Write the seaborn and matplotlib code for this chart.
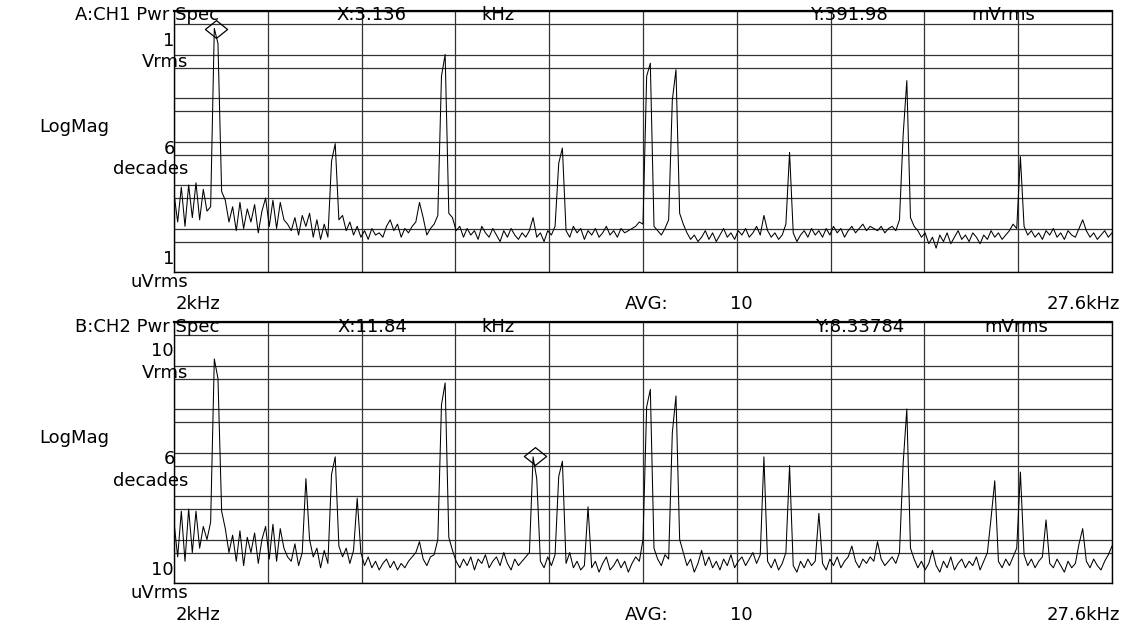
import numpy as np
import pandas as pd
import matplotlib
matplotlib.use("Agg")
import matplotlib.pyplot as plt
from matplotlib.path import Path
from matplotlib.ticker import NullLocator
import seaborn as sns

## DATA
# both traces: 2 kHz start, 25.6 kHz span, one point every 0.1 kHz
f_start = 2.0
f_stop = 27.6
n_points = 257

# CH1 power spectrum in dBV
ch1_dbv = [
    -84, -97, -81, -99, -80, -95, -79, -96, -82, -92, -90, -8, -15, -83, -87, -97,
    -90, -101, -88, -100, -91, -97, -89, -102, -92, -86, -99, -87, -100, -88, -96, -98,
    -101, -95, -103, -94, -99, -93, -104, -96, -105, -98, -104, -69, -61, -96, -94, -101,
    -97, -103, -99, -104, -101, -105, -100, -103, -102, -104, -99, -96, -101, -98, -104, -100,
    -102, -99, -97, -88, -95, -103, -100, -98, -94, -30, -20, -93, -95, -101, -99, -104,
    -100, -103, -101, -105, -99, -102, -104, -100, -103, -106, -101, -104, -100, -103, -105, -102,
    -104, -101, -95, -104, -102, -106, -101, -103, -99, -70, -63, -101, -104, -99, -102, -100,
    -105, -101, -103, -100, -104, -102, -99, -103, -101, -104, -100, -102, -101, -100, -99, -97,
    -98, -30, -24, -99, -101, -103, -100, -96, -41, -27, -93, -98, -102, -105, -103, -106,
    -104, -101, -105, -102, -106, -103, -100, -104, -102, -105, -101, -103, -100, -104, -102, -99,
    -103, -94, -101, -104, -102, -105, -103, -98, -65, -102, -106, -103, -101, -104, -100, -103,
    -101, -104, -100, -103, -99, -102, -100, -104, -101, -99, -102, -100, -98, -101, -99, -100,
    -101, -99, -102, -100, -99, -101, -96, -57, -32, -95, -99, -101, -104, -102, -107, -104,
    -109, -103, -106, -102, -107, -104, -101, -105, -103, -106, -102, -104, -107, -103, -105, -101,
    -104, -102, -105, -103, -101, -98, -100, -67, -99, -103, -101, -104, -102, -105, -101, -103,
    -100, -104, -102, -105, -101, -103, -104, -100, -96, -101, -104, -102, -105, -103, -101, -104,
    -102,
]

# CH2 power spectrum in dBV
ch2_dbv = [
    -72, -88, -67, -90, -66, -86, -67, -84, -74, -80, -72, 3, -6, -67, -75, -86,
    -78, -90, -76, -92, -79, -86, -77, -91, -80, -74, -89, -73, -90, -75, -84, -88,
    -90, -82, -92, -86, -52, -80, -88, -84, -93, -85, -91, -50, -42, -83, -88, -84,
    -91, -85, -61, -86, -92, -88, -93, -90, -94, -91, -89, -93, -90, -94, -91, -93,
    -90, -88, -86, -81, -89, -92, -88, -87, -80, -18, -8, -79, -85, -90, -93, -89,
    -92, -88, -94, -89, -91, -87, -93, -90, -88, -92, -86, -91, -94, -89, -92, -90,
    -88, -86, -42, -52, -90, -93, -88, -92, -87, -51, -44, -91, -86, -93, -90, -94,
    -92, -65, -93, -90, -95, -91, -88, -94, -92, -89, -93, -90, -95, -91, -88, -90,
    -80, -19, -11, -84, -89, -92, -87, -89, -31, -14, -80, -86, -92, -89, -95, -91,
    -85, -92, -88, -93, -90, -94, -89, -92, -87, -93, -90, -88, -92, -89, -86, -91,
    -87, -42, -90, -93, -89, -94, -91, -86, -46, -92, -95, -90, -93, -89, -92, -90,
    -68, -91, -94, -89, -92, -88, -93, -90, -88, -83, -90, -93, -89, -91, -88, -90,
    -81, -89, -92, -90, -88, -91, -86, -45, -20, -84, -89, -93, -90, -94, -91, -85,
    -92, -95, -90, -93, -88, -94, -91, -89, -93, -90, -92, -88, -94, -90, -86, -70,
    -53, -90, -93, -89, -92, -88, -84, -49, -87, -92, -89, -93, -90, -88, -71, -91,
    -93, -89, -92, -95, -90, -93, -91, -82, -75, -90, -93, -89, -92, -94, -90, -87,
    -83,
]

# marker readouts (kHz, Vrms)
ch1_marker_khz = 3.136
ch1_marker_v = 391.98e-3
ch2_marker_khz = 11.84
ch2_marker_v = 8.33784e-3

# y range of each panel (Vrms), 6 decades
ch1_ylim = (1e-6, 1.0)
ch2_ylim = (1e-5, 10.0)

# texts
ch1_header = ["A:CH1 Pwr Spec", "X:3.136", "kHz", "Y:391.98", "mVrms"]
ch2_header = ["B:CH2 Pwr Spec", "X:11.84", "kHz", "Y:8.33784", "mVrms"]
ch1_scale = ["1", "Vrms", "6", "decades", "1", "uVrms"]
ch2_scale = ["10", "Vrms", "6", "decades", "10", "uVrms"]
mag_label = "LogMag"
footer = ["2kHz", "AVG:", "10", "27.6kHz"]


## FIGURE
W, H = 1137, 627
LEFT, RIGHT = 174, 1112
FS = 13

sns.set_theme(style="white")
plt.rcParams["font.family"] = ["DejaVu Sans"]

fig = plt.figure(figsize=(W / 100, H / 100), dpi=100)
fig.patch.set_facecolor("white")

freq = np.linspace(f_start, f_stop, n_points)

# diamond marker, a bit wider than tall
diamond = Path([(-1, 0), (0, 0.8), (1, 0), (0, -0.8), (-1, 0)],
               [Path.MOVETO, Path.LINETO, Path.LINETO, Path.LINETO, Path.CLOSEPOLY])


def put(x, y, s, ha="center"):
    fig.text(x / W, 1 - y / H, s, ha=ha, va="baseline", fontsize=FS, color="black")


panels = [
    dict(trace=ch1_dbv, ylim=ch1_ylim, top=11, bottom=272,
         marker=(ch1_marker_khz, ch1_marker_v), header=ch1_header, scale=ch1_scale,
         header_x=[147, 371, 498, 849, 1003]),
    dict(trace=ch2_dbv, ylim=ch2_ylim, top=322, bottom=583,
         marker=(ch2_marker_khz, ch2_marker_v), header=ch2_header, scale=ch2_scale,
         header_x=[147, 372, 498, 860, 1016]),
]

for p in panels:
    top, bottom = p["top"], p["bottom"]
    ax = fig.add_axes([LEFT / W, 1 - bottom / H, (RIGHT - LEFT) / W, (bottom - top) / H])
    ax.set_facecolor("white")

    df = pd.DataFrame({"freq_khz": freq, "vrms": 10 ** (np.asarray(p["trace"]) / 20.0)})
    sns.lineplot(data=df, x="freq_khz", y="vrms", ax=ax, color="black",
                 linewidth=0.75, estimator=None, sort=False, legend=False)
    ax.set_yscale("log")
    ax.set_xlim(f_start, f_stop)
    ax.set_ylim(*p["ylim"])

    # grid: 10 columns, lines at every decade and at 5x each decade
    lo, hi = np.log10(p["ylim"])
    decades = 10.0 ** np.arange(lo, hi + 1)
    halves = 5 * 10.0 ** np.arange(lo, hi)
    ax.set_xticks(np.linspace(f_start, f_stop, 11))
    ax.set_yticks(np.concatenate([decades, halves]))
    ax.yaxis.set_minor_locator(NullLocator())
    ax.tick_params(length=0, labelbottom=False, labelleft=False)
    ax.grid(True, color="#333333", linewidth=0.9)
    ax.set_xlabel("")
    ax.set_ylabel("")
    for side, sp in ax.spines.items():
        sp.set_visible(True)
        sp.set_color("black")
        sp.set_linewidth(1.6 if side == "top" else 1.0)

    # marker
    mx, my = p["marker"]
    ax.plot([mx], [my], marker=diamond, markersize=16, markerfacecolor="none",
            markeredgecolor="black", markeredgewidth=0.9, linestyle="none", clip_on=False)

    # header line (sits on the top border)
    for s, x in zip(p["header"], p["header_x"]):
        put(x, top + 9.5, s)

    # scale labels on the left
    sc = p["scale"]
    put(174, top + 34.5, sc[0], ha="right")
    put(188, top + 56, sc[1], ha="right")
    put(74, top + 121, mag_label)
    put(175, top + 142.5, sc[2], ha="right")
    put(188, top + 163.5, sc[3], ha="right")
    put(174, top + 253, sc[4], ha="right")
    put(188, top + 276, sc[5], ha="right")

    # footer
    put(176, top + 298, footer[0], ha="left")
    put(647, top + 298, footer[1])
    put(741, top + 298, footer[2])
    put(1120, top + 298, footer[3], ha="right")

fig.savefig("out.png", dpi=100, facecolor="white")
